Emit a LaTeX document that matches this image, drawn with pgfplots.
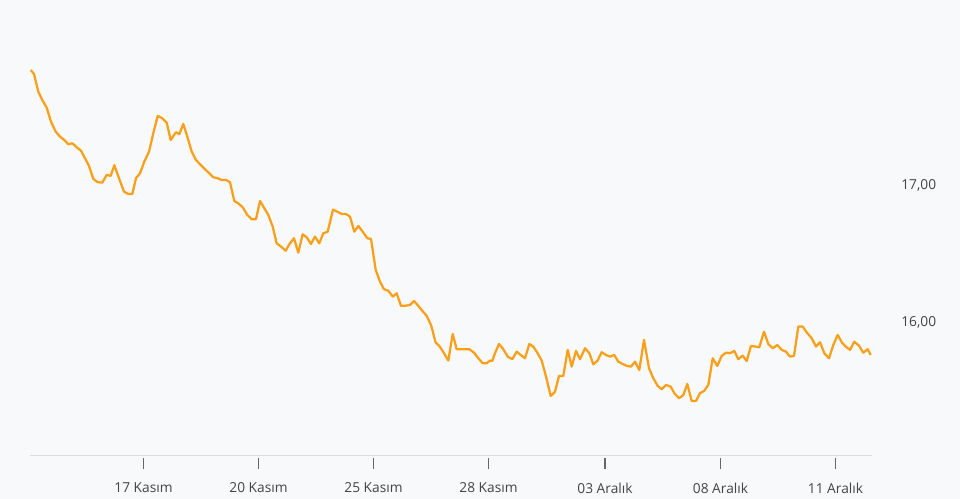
\documentclass[border=0pt]{standalone}
\usepackage{pgfplots}
\pgfplotsset{compat=1.18}
\usepackage{fontspec}
\setmainfont{Open Sans}
\usetikzlibrary{backgrounds}
\definecolor{bgc}{HTML}{F8F9FB}
\definecolor{linec}{HTML}{F8A01C}
\definecolor{axisc}{HTML}{DCDCDC}
\definecolor{tickc}{HTML}{666666}
\definecolor{txtc}{HTML}{444444}
\begin{document}
\begin{tikzpicture}
\begin{axis}[
  x=0.75pt, y=102.75pt,
  xmin=30, xmax=872, ymin=15.022, ymax=18.058,
  clip=false,
  axis x line*=bottom, axis y line*=right,
  x axis line style={-, color=axisc, line width=0.8pt},
  y axis line style={draw=none},
  xtick={143.5,258.5,373.5,488.5,605,720.5,835.5},
  xticklabels={17 Kasım,20 Kasım,25 Kasım,28 Kasım,03 Aralık,08 Aralık,11 Aralık},
  ytick={16,17},
  yticklabels={{16,00},{17,00}},
  tick align=outside,
  major tick length=8pt,
  xtick style={color=tickc, line width=0.8pt, yshift=-1.5pt},
  ytick style={draw=none},
  tick label style={font=\fontsize{10.3pt}{12pt}\selectfont, text=txtc},
  xticklabel style={yshift=-8.5pt},
  yticklabel style={anchor=west, xshift=10.5pt},
]
\addplot[color=linec, line width=1.7pt, line join=round, no marks] coordinates {
(30.7,17.839)(34,17.810)(38.3,17.681)(42.3,17.620)(46.7,17.564)(51,17.462)(55.7,17.389)(60,17.353)(64.3,17.328)(68.3,17.297)(72.3,17.304)(76.7,17.275)(81,17.250)(85,17.195)(89,17.139)(93.3,17.044)(97.7,17.020)(102.3,17.017)(106.7,17.073)(110.7,17.066)(114.3,17.144)(119,17.049)(124,16.951)(128.3,16.934)(132.3,16.934)(136,17.049)(140,17.085)(144.3,17.170)(149,17.243)(153.3,17.377)(157.7,17.504)(162.3,17.487)(166.7,17.455)(170.7,17.328)(176,17.385)(179.3,17.370)(183.3,17.445)(187.3,17.353)(191.7,17.243)(196,17.182)(200.7,17.146)(205,17.115)(209.3,17.085)(213.3,17.056)(217.7,17.049)(221.7,17.036)(226,17.036)(230,17.020)(234.3,16.883)(238.3,16.866)(242.7,16.837)(247.3,16.781)(251.7,16.750)(256,16.750)(260,16.883)(264.3,16.830)(268.3,16.781)(272.7,16.696)(276.7,16.574)(281,16.550)(285.7,16.520)(289.3,16.567)(294,16.611)(298.3,16.506)(302.7,16.640)(306.7,16.618)(311,16.569)(315,16.623)(319.3,16.574)(323.3,16.647)(327.7,16.659)(333,16.820)(337.3,16.805)(341.7,16.788)(346,16.788)(350,16.769)(354.3,16.659)(358.3,16.701)(362.7,16.659)(367.3,16.611)(371,16.606)(375.7,16.380)(380,16.294)(384,16.239)(388.3,16.228)(392.7,16.185)(396.7,16.209)(401,16.117)(405.7,16.119)(410,16.124)(414,16.153)(418.3,16.117)(422.3,16.082)(426.7,16.044)(431,15.978)(435.7,15.849)(439.3,15.825)(444,15.772)(448.3,15.718)(452.7,15.912)(456.7,15.801)(461,15.801)(465.7,15.801)(469.3,15.801)(474,15.776)(478.3,15.735)(482.7,15.699)(486.7,15.699)(490,15.718)(492.3,15.715)(495,15.772)(499,15.839)(503.3,15.801)(507.7,15.747)(512.3,15.728)(516.7,15.783)(520.7,15.759)(525,15.735)(529.3,15.839)(533.3,15.820)(537.3,15.776)(541.7,15.718)(546,15.601)(550.7,15.460)(555,15.491)(559,15.606)(563.3,15.606)(567.7,15.796)(571.7,15.674)(576,15.788)(580,15.728)(585,15.808)(589.3,15.772)(593.3,15.691)(597.3,15.715)(601.7,15.779)(606,15.759)(610,15.747)(614.3,15.759)(618.3,15.710)(622.7,15.693)(626.7,15.679)(631,15.674)(635,15.710)(639.3,15.650)(644,15.869)(649,15.662)(653.3,15.589)(657.7,15.533)(661.7,15.509)(666,15.540)(670.7,15.528)(674.3,15.480)(679,15.443)(683.3,15.467)(687.3,15.547)(691.7,15.423)(696,15.423)(700,15.480)(704,15.496)(708.3,15.540)(712.7,15.735)(717.3,15.679)(721.7,15.752)(726,15.776)(730,15.772)(734.3,15.788)(738.3,15.728)(742.7,15.754)(746.7,15.715)(751,15.825)(755.7,15.820)(759.3,15.815)(764,15.929)(768.3,15.839)(772.7,15.808)(777.3,15.832)(781.7,15.796)(786,15.783)(790,15.747)(794,15.752)(798.3,15.966)(802.7,15.966)(807.3,15.918)(811.7,15.881)(816,15.820)(820,15.852)(824.3,15.772)(829,15.735)(833.3,15.832)(837.7,15.905)(842.3,15.845)(846.7,15.815)(850,15.796)(854.3,15.856)(859,15.827)(863.3,15.776)(867.7,15.801)(870.7,15.759)
};
\coordinate (BL) at (axis cs:0,14.708);
\coordinate (TR) at (axis cs:960,18.350);
\end{axis}
\begin{scope}[on background layer]
\fill[bgc] (BL) rectangle (TR);
\end{scope}
\pgfresetboundingbox
\path[use as bounding box] (BL) rectangle (TR);
\end{tikzpicture}
\end{document}
